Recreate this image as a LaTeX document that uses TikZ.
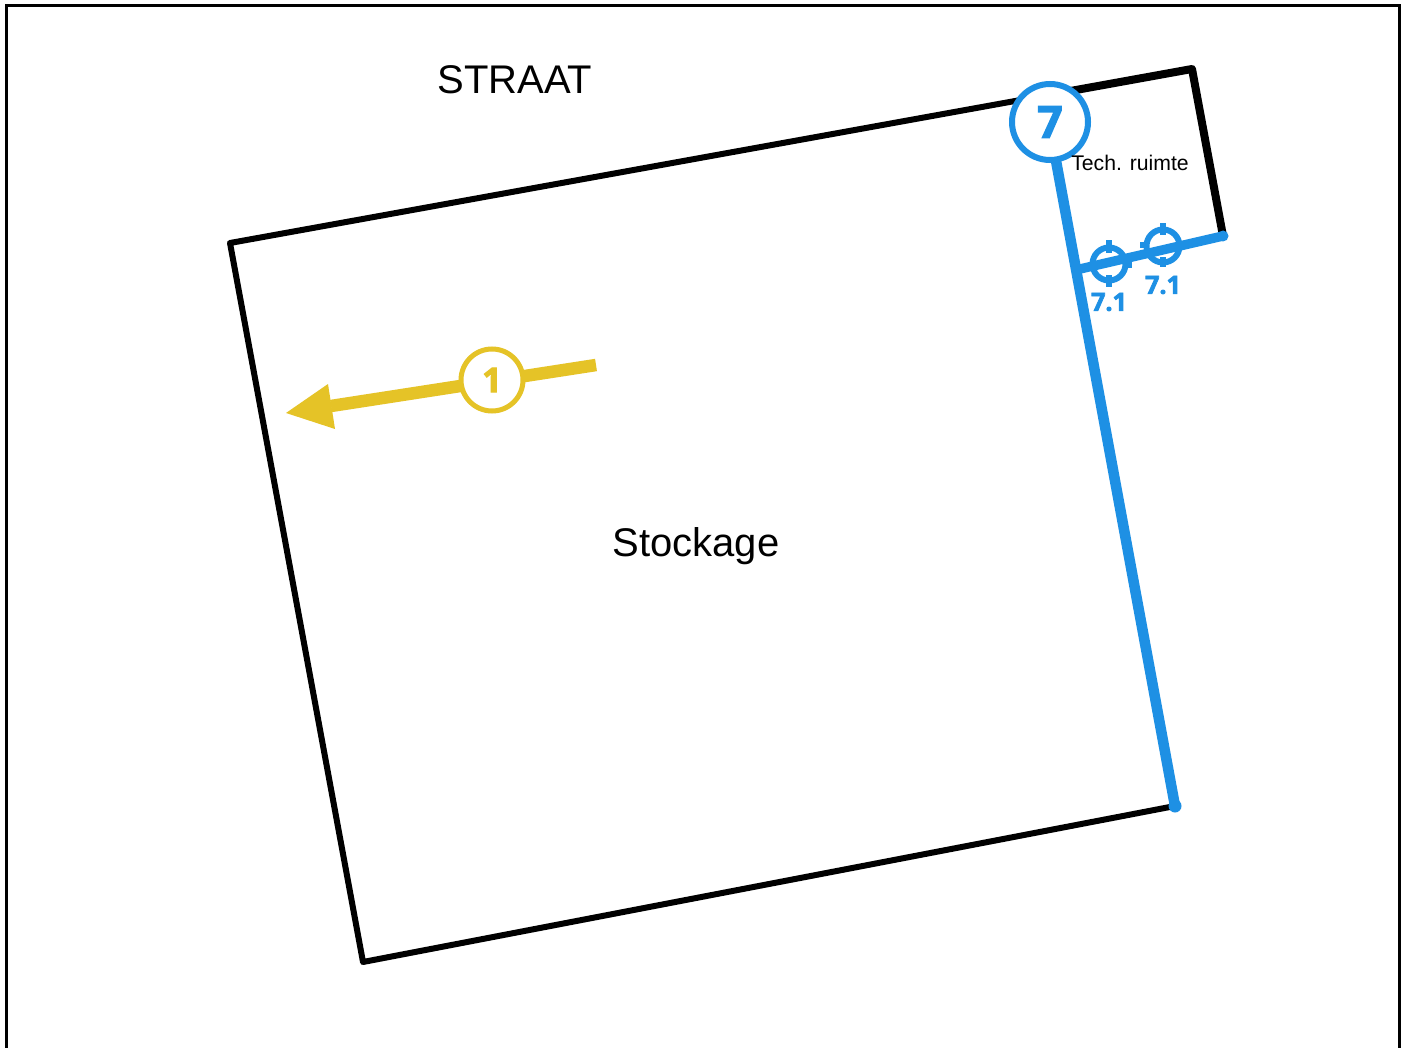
\documentclass[tikz,border=0pt]{standalone}
\usepackage{fontspec}
\setmainfont{Liberation Sans}
\newfontfamily\numfont[BoldFeatures={FakeBold=3}]{Open Sans}
\definecolor{wallblue}{HTML}{1E90E4}
\definecolor{arrowyellow}{HTML}{E5C327}
\tikzset{
  wall/.style={draw=black,line width=6pt,line cap=round,line join=round},
  techwall/.style={draw=black,line width=8pt,line cap=round,line join=round},
  bluewall/.style={draw=wallblue,line width=10.5pt,line cap=butt},
  bluethin/.style={draw=wallblue,line width=9.5pt},
  bigbadge/.style={circle,draw=wallblue,fill=white,line width=6pt,minimum size=76pt,inner sep=0pt,text=wallblue,font=\numfont\bfseries\fontsize{44}{44}\selectfont},
  ybadge/.style={circle,draw=arrowyellow,fill=white,line width=5pt,minimum size=62pt,inner sep=0pt,text=arrowyellow,font=\numfont\bfseries\fontsize{34}{34}\selectfont},
  target/.style={circle,draw=wallblue,line width=6pt,minimum size=33pt,inner sep=0pt},
  tick/.style={draw=wallblue,line width=5.5pt},
  tlabel/.style={text=wallblue,font=\numfont\bfseries\fontsize{25}{25}\selectfont,inner sep=0pt},
  big/.style={font=\fontsize{40}{40}\selectfont,inner sep=0pt},
  small/.style={font=\fontsize{21.2}{22}\selectfont,inner sep=0pt}
}
\begin{document}
\begin{tikzpicture}[x=1pt,y=-1pt]
\useasboundingbox (0,0) rectangle (1405,1048);
\fill[white] (0,0) rectangle (1405,1048);
\draw[black,line width=3pt] (6.5,1048) -- (6.5,5.5) -- (1399,5.5) -- (1399,1048);
\coordinate (nw) at (230,243);
\coordinate (ne) at (1192,69);
\coordinate (se) at (1223,236);
\coordinate (sw) at (363,962);
\coordinate (br) at (1175,806);
\coordinate (tl) at (1080,269);
\coordinate (split) at (1056,93.6);
\draw[wall] (split) -- (nw) -- (sw) -- (br);
\draw[techwall] (se) -- (ne) -- (split);
\draw[bluethin] (tl) -- (se);
\fill[wallblue] (se) circle (5.5pt);
\node[target] (t1) at (1109,264) {};
\node[target] (t2) at (1163,246) {};
\draw[tick] ([yshift=-23pt]t1.center) -- ([yshift=-11pt]t1.center);
\draw[tick] ([yshift=11pt]t1.center) -- ([yshift=24pt]t1.center);
\draw[tick] ([yshift=-21pt]t2.center) -- ([yshift=-11pt]t2.center);
\draw[tick] ([yshift=11pt]t2.center) -- ([yshift=23pt]t2.center);
\draw[tick] ([xshift=14pt,yshift=-1pt]t1.center) -- ([xshift=23pt,yshift=-1pt]t1.center);
\draw[tick] ([xshift=-23pt,yshift=1pt]t2.center) -- ([xshift=-14pt,yshift=1pt]t2.center);
\coordinate (btop) at (1054,150);
\draw[bluewall] (btop) -- (br);
\fill[wallblue] (br) circle (6.5pt);
\node[bigbadge] (seven) at (1050,122) {7};
\node[tlabel] at (1109,302) {7.1};
\node[tlabel] at (1163,285) {7.1};
\coordinate (astart) at (596,365);
\coordinate (atip) at (286,413);
\coordinate (abase) at (331,406);
\draw[draw=arrowyellow,line width=12.5pt] (astart) -- (abase);
\fill[arrowyellow] (atip) -- (328,384) -- (335,429) -- cycle;
\node[ybadge] (one) at (492,380) {1};
\node[big] at (515,80) {STRAAT};
\node[big] at (696,546) {Stockage};
\node[small] at (1130,163) {Tech. ruimte};
\end{tikzpicture}
\end{document}
